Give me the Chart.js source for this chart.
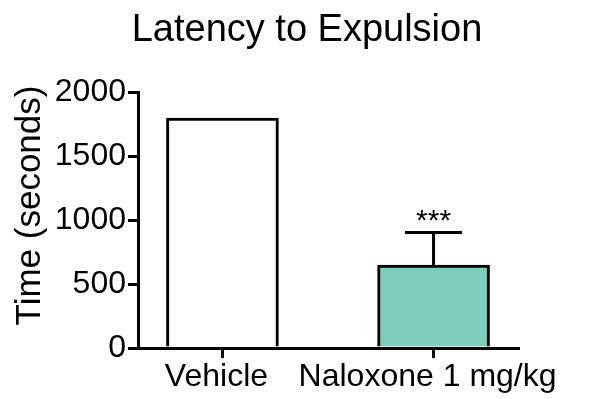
<!DOCTYPE html>
<html>
<head>
<meta charset="utf-8">
<script src="https://cdn.jsdelivr.net/npm/chart.js@4/dist/chart.umd.min.js"></script>
<style>
html,body{margin:0;padding:0;background:#fff;}
#wrap{width:600px;height:399px;position:relative;}
</style>
</head>
<body>
<div id="wrap"><canvas id="c" width="600" height="399"></canvas></div>
<script>
// ---- data ----
const categories = ['Vehicle', 'Naloxone 1 mg/kg'];
const meanTimes = [1800, 650];
const semErrors = [0, 255];
const significance = ['', '***'];
const titleText = 'Latency to Expulsion';
const yTitleText = 'Time (seconds)';

const FONT = "'Liberation Sans', Arial, Helvetica, sans-serif";

const errorBarPlugin = {
  id: 'errorBars',
  afterLayout(chart) {
    if (chart.titleBlock) {
      chart.titleBlock.left = 14;
      chart.titleBlock.right = 600;
    }
  },
  afterDatasetsDraw(chart) {
    const ctx = chart.ctx;
    const xs = chart.scales.x, ys = chart.scales.y;
    ctx.save();
    ctx.strokeStyle = '#000';
    ctx.fillStyle = '#000';
    ctx.lineWidth = 3;
    meanTimes.forEach((v, i) => {
      const x = xs.getPixelForValue(i);
      const yBar = ys.getPixelForValue(v);
      const yTop = ys.getPixelForValue(v + semErrors[i]);
      if (semErrors[i] > 0) {
        ctx.beginPath();
        ctx.moveTo(x, yBar);
        ctx.lineTo(x, yTop);
        ctx.moveTo(x - 28.5, yTop);
        ctx.lineTo(x + 28.5, yTop);
        ctx.stroke();
      }
      if (significance[i]) {
        ctx.font = '30px ' + FONT;
        ctx.textAlign = 'center';
        ctx.textBaseline = 'alphabetic';
        ctx.fillText(significance[i], x, yTop - 2);
      }
    });
    // y-axis title
    ctx.translate(30, 205.5);
    ctx.rotate(-Math.PI / 2);
    ctx.font = '35px ' + FONT;
    ctx.textAlign = 'center';
    ctx.textBaseline = 'middle';
    ctx.fillText(yTitleText, 0, 0);
    ctx.restore();
  }
};

new Chart(document.getElementById('c'), {
  type: 'bar',
  data: {
    datasets: [{
      data: meanTimes.map((v, i) => ({x: i, y: v})),
      backgroundColor: ['#ffffff', '#7ccdba'],
      borderColor: '#000',
      borderWidth: 3,
      barThickness: 112
    }]
  },
  options: {
    responsive: false,
    animation: false,
    layout: {padding: {left: 0, right: 82, top: 0, bottom: 0}},
    plugins: {
      legend: {display: false},
      tooltip: {enabled: false},
      title: {
        display: true,
        text: titleText,
        color: '#000',
        font: {family: FONT, size: 38, weight: 'normal'},
        padding: {top: 8, bottom: 39}
      }
    },
    scales: {
      x: {
        type: 'linear',
        offset: false,
        min: -0.4,
        max: 1.4,
        afterBuildTicks(scale) {
          scale.ticks = categories.map((c, i) => ({value: i}));
        },
        afterFit(scale) { scale.height = 51; },
        grid: {offset: false, drawOnChartArea: false, drawTicks: true, tickLength: 10, lineWidth: 3, color: '#000'},
        border: {display: true, width: 3, color: '#000'},
        ticks: {
          color: '#000',
          padding: 0,
          maxRotation: 0,
          autoSkip: false,
          labelOffset: -6,
          font: {family: FONT, size: 32},
          callback: (v) => categories[v]
        }
      },
      y: {
        min: 0,
        max: 2000,
        afterFit(scale) { scale.width = 138; },
        grid: {drawOnChartArea: false, drawTicks: true, tickLength: 10, lineWidth: 3, color: '#000'},
        border: {display: true, width: 3, color: '#000'},
        ticks: {
          stepSize: 500,
          color: '#000',
          padding: 2,
          font: {family: FONT, size: 32},
          callback: (v) => String(v)
        }
      }
    }
  },
  plugins: [errorBarPlugin]
});
</script>
</body>
</html>
